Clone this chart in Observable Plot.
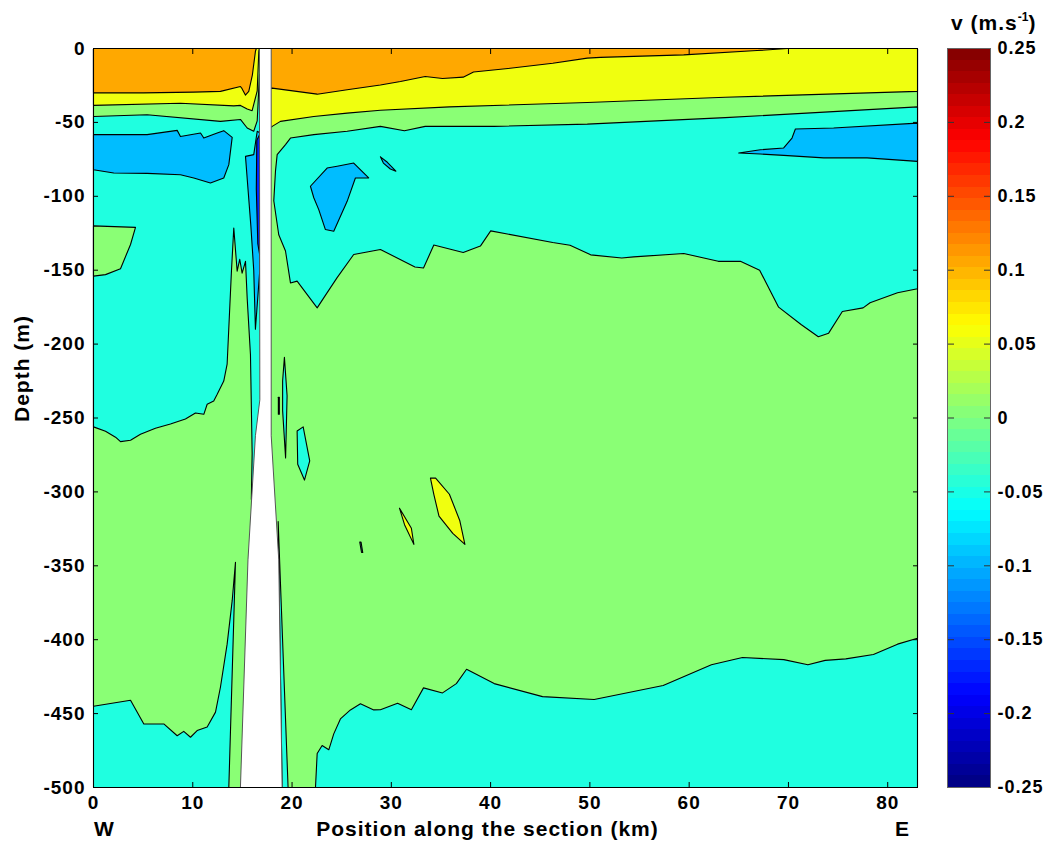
<!DOCTYPE html>
<html>
<head>
<meta charset="utf-8">
<script src="https://cdn.jsdelivr.net/npm/d3@7"></script>
<script src="https://cdn.jsdelivr.net/npm/@observablehq/plot@0.6"></script>
<style>
  body { margin: 0; background: #fff; }
  #wrap { position: relative; width: 1051px; height: 850px; overflow: hidden; }
  #main, #cbar { position: absolute; top: 0; }
  #main { left: 0; }
  #cbar { left: 940px; }
  #cbtitle { position: absolute; left: 951px; top: 11px; font: bold 21px "Liberation Sans", Arial, sans-serif;
             letter-spacing: 1px; white-space: nowrap; line-height: 24px; color: #000; }
  #cbtitle span { font-size: 12px; position: relative; top: -9px; letter-spacing: 0; }
</style>
</head>
<body>
<div id="wrap">
  <div id="main"></div>
  <div id="cbar"></div>
  <div id="cbtitle">v (m.s<span>-1</span>)</div>
</div>
<script>
// ---------- axis / tick data ----------
const xTicks = [0, 10, 20, 30, 40, 50, 60, 70, 80];
const yTicks = [0, -50, -100, -150, -200, -250, -300, -350, -400, -450, -500];
const cbTicks = [-0.25, -0.2, -0.15, -0.1, -0.05, 0, 0.05, 0.1, 0.15, 0.2, 0.25];
const xTitle = "Position along the section (km)";
const yTitle = "Depth (m)";
const westLabel = "W";
const eastLabel = "E";

// ---------- velocity bands (m/s) ----------
const bandNames  = ["orange", "yellow", "green", "cyan", "lightblue", "darkblue"];
const bandValues = [0.105, 0.055, 0.005, -0.0475, -0.095, -0.17];

// ---------- contour regions: [position km, depth m] ----------
const cyanBase = [[0,0],[83,0],[83,-500],[0,-500]];

const greenBig = [
  [0,0],[83,0],[83,-399],
  [80.99,-403],[78.56,-410],[75.78,-413],[73.7,-414],[71.96,-417],[69.53,-413.5],[65.37,-412],
  [62.24,-417],[57.38,-431],[50.43,-440.5],[45.23,-438.5],[40.36,-429.7],[37.58,-420],[36.55,-429.7],
  [35.16,-436],[33.24,-432.6],[32.02,-447.4],[30.63,-443],[28.9,-447.4],[28.23,-447.5],[26.89,-443.4],
  [25.88,-447.5],[24.87,-453.6],[24.2,-463.7],[23.7,-474.5],[23.03,-471.6],[22.53,-477],[22.36,-500],
  [13.63,-500],[14.3,-347.6],
  [13.97,-373.6],[13.46,-403],[12.79,-432],[12.29,-449],[11.45,-459],[10.44,-461.5],[9.77,-466],
  [9.09,-462],[8.43,-465],[7.08,-457],[5.07,-457],[3.73,-441],[0,-445]
];

const cyanRight = [
  [18.5,-71.8],[19.34,-65],[19.84,-60.6],[22.19,-58.3],[25.55,-56],[28.9,-52.7],[31.32,-55.7],
  [33.41,-52.7],[40.36,-52.7],[49.74,-51.2],[63.63,-46.8],[83,-39.5],
  [83,-162.6],[80.99,-165.2],[78.22,-172],[77.52,-175.5],[75.43,-177.9],[74.05,-192.6],[73.01,-195],
  [71.27,-186.7],[69.01,-175],[67.1,-150],[65.16,-144],[62.93,-144],[59.46,-138.7],[54.41,-141],
  [53.21,-141.7],[50.08,-139.6],[48.0,-133.1],[46.26,-131.3],[40.01,-123.4],[38.97,-133.7],
  [37.24,-138],[34.28,-133],[33.24,-148.5],[32.38,-147.8],[28.9,-136],[26.21,-139.4],[24.54,-155],
  [23.19,-168.7],[22.53,-175.5],[20.51,-157.4],[19.84,-158.6],[19.34,-137],[18.66,-126],
  [18.16,-103],[18.33,-83]
];

const cyanLeft = [
  [0,-46],[5.4,-44.8],[12.79,-49.3],[14.8,-48],[15.48,-53.8],[16.14,-56],[16.49,-49],[16.72,-17.6],
  [17.3,-17.6],[17.3,-305],[15.9,-305],
  [15.98,-274],[15.81,-207],[15.48,-169],[15.31,-144],[14.97,-152],[14.73,-142.6],[14.47,-150.7],
  [14.13,-121.4],[13.9,-150],[13.46,-213.6],[13.12,-225],[12.46,-234],[12.11,-238.5],[11.45,-240.7],
  [11.11,-247.5],[10.27,-246.6],[9.26,-250.7],[7.75,-254],[6.24,-257],[4.73,-261],[3.73,-265],
  [2.72,-266],[2.22,-263],[1.21,-259],[0,-256]
];

const greenBumpLeft = [[0,-120],[4.23,-121],[3.73,-132.6],[2.72,-149],[1.21,-153],[0,-154]];

const cyanGapRight = [[18.6,-320],[19.6,-500],[19.0,-500],[18.66,-346]];

const yellowLeft = [
  [0,0],[16.7,0],[16.65,-2],[16.49,-28.6],[15.98,-42.1],[15.48,-41],[14.8,-38.5],[14.13,-38.8],
  [8.76,-37],[0,-38.5]
];
const yellowRight = [
  [17.3,0],[83,0],[83,-29],[63.63,-33],[49.74,-36.5],[35.85,-39.5],[28.9,-41.8],[25.55,-43.7],
  [22.19,-46],[18.83,-49.3],[18.0,-52.7],[17.3,-55]
];

const orangeLeft = [
  [0,0],[16.4,0],[16.31,-2],[16.0,-18],[15.64,-29],[15.3,-31.5],[14.95,-27],[14.8,-25.7],
  [12.79,-29],[10.07,-29.5],[5,-30],[0,-30]
];
const orangeRight = [
  [17.3,0],[69.9,0],[66.84,-1.4],[59.45,-4.3],[51.06,-6],[49.74,-6.5],[46.26,-10],[41.75,-13.5],
  [38.28,-15.9],[37.24,-19.4],[35.16,-20.3],[33.41,-18.9],[30.92,-22.3],[28.9,-24.7],[25.55,-27.9],
  [22.53,-30.9],[18.0,-26.8],[17.3,-27]
];

const lightBlueLeft = [
  [0,-58.3],[5.4,-58.3],[8.43,-55.4],[8.76,-59.5],[10.78,-57.2],[11.11,-60.6],[12.46,-57.2],
  [13.12,-55.6],[13.97,-60.1],[13.63,-78.6],[13.12,-87.6],[11.78,-91],[10.1,-87.6],[8.76,-85.4],
  [5.4,-84.5],[2.04,-84.2],[0,-82]
];
const lightBlueGap = [
  [16.14,-71.8],[16.49,-56],[16.75,-57],[16.75,-150],[16.31,-190],[16.14,-150],[15.85,-120],
  [15.48,-88],[15.31,-73]
];
const lightBlueMid = [
  [21.85,-93.2],[23.53,-80.9],[24.54,-79.7],[26.21,-77.5],[27.72,-87.6],[26.38,-87.6],[25.55,-103.4],
  [24.2,-123.6],[23.36,-122.5],[22.69,-109],[22.19,-101]
];
const lightBlueIsland = [[28.9,-73.3],[29.6,-77],[30.46,-83],[29.9,-81.5],[29.2,-77.5]];
const lightBlueRight = [
  [64.99,-70.7],[67.17,-68.5],[69.52,-67.3],[70.36,-60.6],[70.7,-54.5],[74.55,-53.8],[83,-50.5],
  [83,-76.4],[77.92,-74],[73.55,-74],[69.52,-72.3],[67.17,-71.4]
];
const darkBlueGap = [[16.45,-62],[16.75,-58],[16.75,-140],[16.55,-132],[16.4,-95]];

const cyanIsland1 = [[19.23,-209],[19.5,-235],[19.35,-277],[19.05,-245],[19.05,-225]];
const cyanIsland2 = [[18.62,-236],[18.72,-236],[18.72,-247.5],[18.62,-247.5]];
const cyanIsland3 = [[20.51,-258.8],[21.12,-256],[21.78,-279],[21.25,-292],[20.57,-281.3]];
const cyanIsland4 = [[26.82,-334],[26.95,-334],[27.12,-341],[27.0,-341]];
const yellowIsland1 = [
  [33.94,-290.7],[34.46,-290.7],[35.85,-301.6],[36.89,-319.3],[37.41,-335.5],[36.19,-328.1],
  [34.8,-316.4],[34.28,-301.6]
];
const yellowIsland2 = [[30.82,-311],[32.02,-324.6],[32.27,-335.5],[31.33,-322.2]];

// data gap (no measurements)
const gapRegion = [[16.75,0],[17.9,0],[17.9,-262],[18.66,-346],[19.0,-500],[14.8,-500],[15.56,-346],[16.31,-262],[16.75,-238]];

// ---------- drawing order (painter's algorithm) ----------
const band = name => bandValues[bandNames.indexOf(name)];
const layers = [
  ["cyanBase", cyanBase, "cyan"],
  ["greenBig", greenBig, "green"],
  ["cyanRight", cyanRight, "cyan"],
  ["cyanLeft", cyanLeft, "cyan"],
  ["greenBumpLeft", greenBumpLeft, "green"],
  ["cyanGapRight", cyanGapRight, "cyan"],
  ["yellowLeft", yellowLeft, "yellow"],
  ["yellowRight", yellowRight, "yellow"],
  ["orangeLeft", orangeLeft, "orange"],
  ["orangeRight", orangeRight, "orange"],
  ["lightBlueLeft", lightBlueLeft, "lightblue"],
  ["lightBlueGap", lightBlueGap, "lightblue"],
  ["lightBlueMid", lightBlueMid, "lightblue"],
  ["lightBlueIsland", lightBlueIsland, "lightblue"],
  ["lightBlueRight", lightBlueRight, "lightblue"],
  ["darkBlueGap", darkBlueGap, "darkblue"],
  ["cyanIsland1", cyanIsland1, "cyan"],
  ["cyanIsland2", cyanIsland2, "cyan"],
  ["cyanIsland3", cyanIsland3, "cyan"],
  ["cyanIsland4", cyanIsland4, "cyan"],
  ["yellowIsland1", yellowIsland1, "yellow"],
  ["yellowIsland2", yellowIsland2, "yellow"]
];
const rows = layers.flatMap(([id, pts, b]) => pts.map(([x, y]) => ({id, v: band(b), x, y})));
const gapRows = gapRegion.map(([x, y]) => ({x, y}));

// MATLAB-style jet colormap
function jet(t) {
  const c = v => Math.round(255 * Math.max(0, Math.min(1, v)));
  return `rgb(${c(1.5 - Math.abs(4 * t - 3))},${c(1.5 - Math.abs(4 * t - 2))},${c(1.5 - Math.abs(4 * t - 1))})`;
}
const colorScale = {type: "linear", domain: [-0.25, 0.25], interpolate: jet};
const font = '"Liberation Sans", Arial, Helvetica, sans-serif';
const numFmt = d => String(+d.toFixed(2));

const main = Plot.plot({
  width: 1051, height: 850,
  marginLeft: 93, marginRight: 134, marginTop: 48, marginBottom: 63,
  x: {domain: [0, 83]},
  y: {domain: [-500, 0]},
  color: colorScale,
  style: {fontFamily: font, fontWeight: "bold", fontSize: "19px", letterSpacing: "1px", background: "#fff", color: "#000"},
  marks: [
    Plot.line(rows, {x: "x", y: "y", z: "id", fill: "v", stroke: "black", strokeWidth: 1.1, curve: "linear-closed"}),
    Plot.line(gapRows, {x: "x", y: "y", fill: "white", stroke: "#555", strokeWidth: 1, curve: "linear-closed"}),
    Plot.frame({stroke: "black", strokeWidth: 1}),
    Plot.axisX(xTicks, {anchor: "bottom", tickSize: -5, tickPadding: 13, tickFormat: numFmt, label: null}),
    Plot.axisX(xTicks, {anchor: "top", tickSize: -5, tickFormat: () => "", label: null}),
    Plot.axisY(yTicks, {anchor: "left", tickSize: -5, tickPadding: 13, tickFormat: numFmt, label: null}),
    Plot.axisY(yTicks, {anchor: "right", tickSize: -5, tickFormat: () => "", label: null}),
    Plot.text([xTitle], {text: d => d, frameAnchor: "bottom", dy: 48, dx: -18, fontSize: 21, fontWeight: "bold"}),
    Plot.text([westLabel], {text: d => d, frameAnchor: "bottom-left", dy: 48, dx: 11, textAnchor: "middle", fontSize: 21, fontWeight: "bold"}),
    Plot.text([eastLabel], {text: d => d, frameAnchor: "bottom-right", dy: 48, dx: -15, textAnchor: "middle", fontSize: 21, fontWeight: "bold"}),
    Plot.text([yTitle], {text: d => d, frameAnchor: "left", rotate: -90, dx: -71, dy: 4, fontSize: 21, fontWeight: "bold"})
  ]
});
document.getElementById("main").appendChild(main);

// colorbar (legend): 64 jet steps
const cbSteps = d3.range(64).map(i => ({y1: -0.25 + i * 0.5 / 64, y2: -0.25 + (i + 1) * 0.5 / 64}));
const cbar = Plot.plot({
  width: 111, height: 850,
  marginLeft: 7, marginRight: 61, marginTop: 48, marginBottom: 63,
  x: {domain: [0, 1], axis: null},
  y: {domain: [-0.25, 0.25]},
  color: colorScale,
  style: {fontFamily: font, fontWeight: "bold", fontSize: "18px", letterSpacing: "1px", background: "transparent", color: "#000", overflow: "visible"},
  marks: [
    Plot.rect(cbSteps, {x1: 0, x2: 1, y1: "y1", y2: "y2", fill: d => (d.y1 + d.y2) / 2, shapeRendering: "crispEdges"}),
    Plot.axisY(cbTicks, {anchor: "right", tickSize: -7, tickPadding: 14, tickFormat: numFmt, label: null, stroke: "#333"}),
    Plot.axisY(cbTicks, {anchor: "left", tickSize: -7, tickFormat: () => "", label: null, stroke: "#333"}),
    Plot.frame({stroke: "#666", strokeWidth: 1})
  ]
});
document.getElementById("cbar").appendChild(cbar);
</script>
</body>
</html>
